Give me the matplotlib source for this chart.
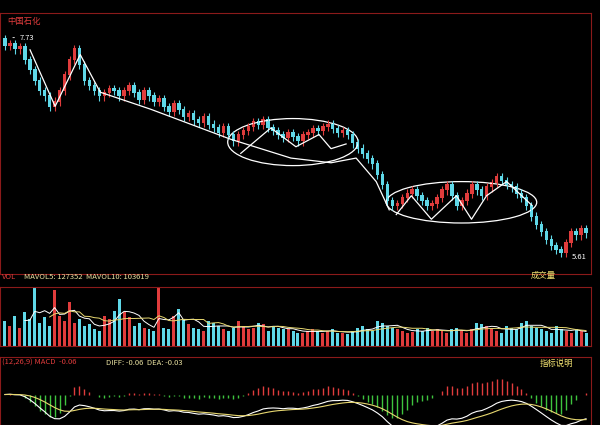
import matplotlib.pyplot as plt
import numpy as np
from matplotlib.patches import Ellipse

plt.rcParams["font.family"] = ["Noto Sans CJK SC", "DejaVu Sans"]

# 收盘价
closes = [7.63, 7.65, 7.60, 7.62, 7.50, 7.40, 7.30, 7.20, 7.15, 7.05, 7.10,
          7.20, 7.35, 7.50, 7.60, 7.45, 7.30, 7.25, 7.20, 7.15, 7.18, 7.22, 7.20,
          7.15, 7.20, 7.25, 7.18, 7.12, 7.20, 7.15, 7.10, 7.12, 7.05, 7.00, 7.08,
          7.02, 6.95, 6.98, 6.92, 6.90, 6.95, 6.88, 6.85, 6.80, 6.86, 6.78, 6.72,
          6.78, 6.82, 6.86, 6.90, 6.88, 6.92, 6.85, 6.82, 6.78, 6.75, 6.80, 6.76,
          6.72, 6.78, 6.80, 6.84, 6.82, 6.86, 6.88, 6.84, 6.80, 6.82, 6.78, 6.70,
          6.65, 6.60, 6.55, 6.50, 6.40, 6.30, 6.15, 6.10, 6.12, 6.18, 6.22, 6.25,
          6.20, 6.15, 6.10, 6.12, 6.18, 6.25, 6.30, 6.20, 6.10, 6.15, 6.22, 6.30,
          6.25, 6.20, 6.28, 6.32, 6.38, 6.34, 6.30, 6.28, 6.22, 6.18, 6.10, 6.00,
          5.92, 5.85, 5.78, 5.72, 5.68, 5.65, 5.75, 5.85, 5.82, 5.88, 5.84]
opens = [7.70] + closes[:-1]

# 成交量（估读）
volumes = [150, 120, 180, 110, 200, 160, 380, 140, 170, 120, 330, 180, 150,
           260, 140, 160, 120, 130, 100, 90, 180, 160, 210, 280, 200, 170, 120,
           140, 110, 100, 90, 380, 110, 100, 180, 220, 160, 130, 110, 100, 90,
           150, 140, 120, 100, 90, 110, 150, 120, 100, 110, 140, 130, 90, 120,
           110, 100, 100, 90, 80, 80, 90, 100, 90, 80, 90, 100, 80, 80, 70,
           90, 110, 120, 100, 90, 150, 140, 120, 110, 100, 90, 80, 85, 100, 90,
           110, 90, 100, 90, 80, 100, 110, 90, 80, 100, 140, 130, 120, 100, 90,
           80, 120, 110, 100, 140, 150, 120, 110, 100, 90, 80, 120, 100, 90,
           80, 100, 90, 80]

n = len(closes)
idx = np.arange(n)
c = np.array(closes)
o = np.array(opens)
up = c >= o
red = "#e03c3c"
cyan = "#5fd8e8"

fig = plt.figure(figsize=(6, 4.25), dpi=100, facecolor="black")
ax1 = fig.add_axes([0.0, 0.355, 0.985, 0.615], facecolor="black")
ax2 = fig.add_axes([0.0, 0.185, 0.985, 0.14], facecolor="black")
ax3 = fig.add_axes([0.0, 0.0, 0.985, 0.16], facecolor="black")

for ax in (ax1, ax2, ax3):
    ax.set_xlim(-1, n)
    ax.set_xticks([])
    ax.set_yticks([])
    for s in ax.spines.values():
        s.set_color("#8b1a1a")

# K线
hi = np.maximum(o, c) + 0.04
lo = np.minimum(o, c) - 0.04
cols = [red if u else cyan for u in up]
ax1.vlines(idx, lo, hi, colors=cols, lw=0.8)
ax1.bar(idx, np.abs(c - o) + 0.01, bottom=np.minimum(o, c), width=0.7, color=cols)
ax1.set_ylim(5.45, 7.95)


def px(x, y):
    return (x - 5) / 4.95, 7.73 - (y - 30) * 0.009


def draw_path(pts):
    xs, ys = zip(*[px(*p) for p in pts])
    ax1.plot(xs, ys, color="white", lw=0.9)


draw_path([(30, 45), (55, 105), (80, 50), (100, 90), (150, 108), (230, 140),
           (290, 160), (330, 165), (355, 160), (375, 185), (388, 215)])
draw_path([(240, 155), (270, 128), (295, 148), (318, 135), (330, 150), (345, 145)])
draw_path([(395, 220), (410, 200), (430, 225), (455, 200), (470, 225), (485, 200),
           (505, 185), (530, 210)])
for (cx, cy, w, h) in [(292, 143, 130, 50), (460, 207, 150, 44)]:
    x0, y0 = px(cx, cy)
    ax1.add_patch(Ellipse((x0, y0), w / 4.95, h * 0.009, fill=False, ec="white", lw=0.9))

ax1.text(0.012, 0.985, "中国石化", transform=ax1.transAxes, color=red, fontsize=6, va="top")
xa, ya = px(20, 32)
ax1.annotate("7.73", xy=(xa - 2, ya), xytext=(xa, ya), color="white", fontsize=5.5,
             va="center", arrowprops=dict(arrowstyle="-", color="white", lw=0.6))
xb, yb = px(565, 265)
ax1.text(xb + 1, yb, "5.61", color="white", fontsize=5.5, va="center")

# 成交量
v = np.array(volumes)
ax2.bar(idx, v, width=0.6, color=cols)
ma5 = np.convolve(v, np.ones(5) / 5, mode="full")[:n]
ma10 = np.convolve(v, np.ones(10) / 10, mode="full")[:n]
ax2.plot(idx[4:], ma5[4:], color="white", lw=0.7)
ax2.plot(idx[9:], ma10[9:], color="#e8d870", lw=0.7)
ax2.set_ylim(0, 350)
ax2.text(0.003, 1.1, "VOL", transform=ax2.transAxes, color=red, fontsize=5.5, va="bottom")
ax2.text(0.04, 1.1, "MAVOL5: 127352  MAVOL10: 103619", transform=ax2.transAxes,
         color="#e8e0a0", fontsize=5.5, va="bottom")
ax2.text(0.92, 1.12, "成交量", transform=ax2.transAxes, color="#f0e070", fontsize=6,
         ha="center", va="bottom")


# MACD
def ema(x, span):
    a = 2 / (span + 1)
    out = [x[0]]
    for val in x[1:]:
        out.append(a * val + (1 - a) * out[-1])
    return np.array(out)


diff = ema(c, 12) - ema(c, 26)
dea = ema(diff, 9)
hist = 2 * (diff - dea)
ax3.vlines(idx, 0, hist, colors=[red if h > 0 else "#3ec43e" for h in hist], lw=1)
ax3.plot(idx, diff, color="white", lw=0.8)
ax3.plot(idx, dea, color="#e8d870", lw=0.8)
m = np.abs(hist).max()
ax3.set_ylim(-m * 1.3, m * 1.6)
ax3.text(0.003, 0.97, "(12,26,9) MACD  -0.06", transform=ax3.transAxes, color=red,
         fontsize=5.5, va="top")
ax3.text(0.18, 0.97, "DIFF: -0.06  DEA: -0.03", transform=ax3.transAxes, color="#e8e0a0",
         fontsize=5.5, va="top")
ax3.text(0.97, 0.97, "指标说明", transform=ax3.transAxes, color="#f0e070", fontsize=6,
         ha="right", va="top")

fig.savefig("out.png", dpi=100, facecolor="black")
